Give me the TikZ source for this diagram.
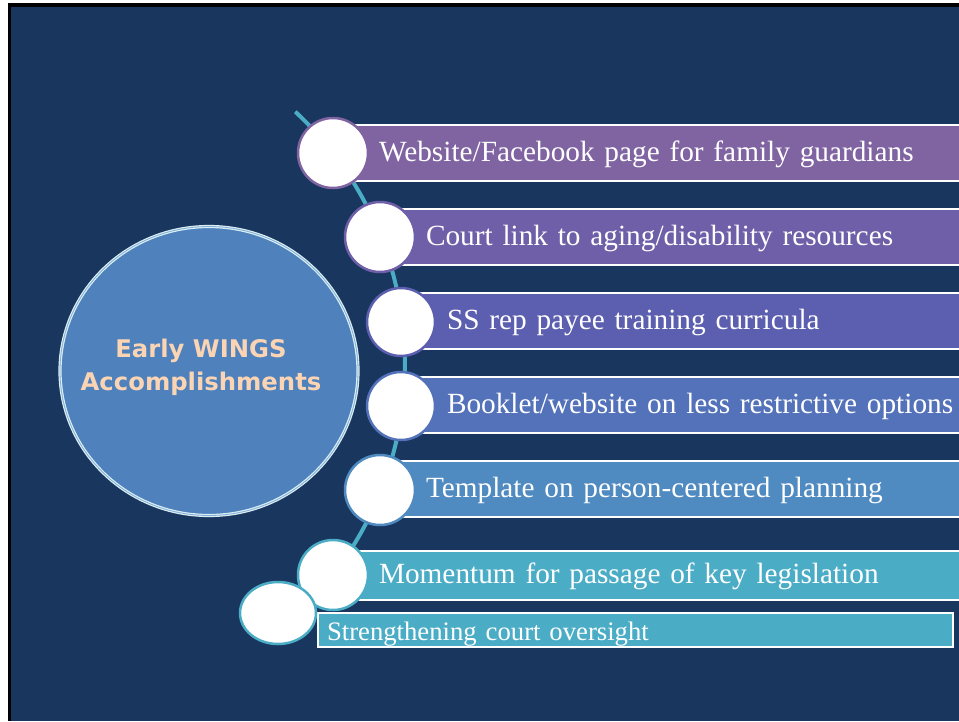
\documentclass[tikz,border=0pt]{standalone}
\usepackage{fontspec}
\setmainfont{Liberation Serif}
\newfontfamily\titlefont{DejaVu Sans}
\usetikzlibrary{shapes.geometric}

\definecolor{slide}{RGB}{24,54,94}
\definecolor{barA}{RGB}{128,100,162}
\definecolor{barB}{RGB}{111,95,168}
\definecolor{barC}{RGB}{92,94,175}
\definecolor{barD}{RGB}{84,114,186}
\definecolor{barE}{RGB}{79,138,193}
\definecolor{barF}{RGB}{75,172,198}
\definecolor{bigblue}{RGB}{79,129,189}
\definecolor{ring}{RGB}{218,238,243}
\definecolor{ringgap}{RGB}{130,175,215}
\definecolor{peach}{RGB}{251,212,180}

\begin{document}
\begin{tikzpicture}[
  x=1pt, y=-1pt,
  bar/.style={draw=white,line width=2pt,anchor=west,minimum height=56pt,text width=620pt,inner xsep=45pt,align=left,text=white,font=\fontsize{29.3}{34}\selectfont,text height=21pt,text depth=5pt},
  dot/.style={draw,circle,line width=2.5pt,fill=white,minimum size=70pt,inner sep=0}
  ]

  \clip (0,0) rectangle (959,721);
  \fill[white] (0,0) rectangle (959,721);
  \fill[black] (8,3) rectangle (959,721);
  \fill[slide] (11,7) rectangle (959,721);

  \node [ellipse,inner sep=0,fill=bigblue,draw=ring,double=ringgap,double distance=0.8pt,line width=1.2pt,minimum width=298pt,minimum height=289pt] (wings) at (209,371) {};
  \node [text=peach,align=center,font=\titlefont\bfseries\fontsize{24.3}{33}\selectfont] (title) at (201,367) {Early WINGS\\Accomplishments};

  \coordinate (hub) at (60,364);
  \draw[barF,line width=4pt] (hub) ++(-47:345) arc[start angle=-47,end angle=38,radius=345];

  \node [bar,fill=barA] (b1) at (333,153) {Website/Facebook page for family guardians};
  \node [bar,fill=barB] (b2) at (380,237) {Court link to aging/disability resources};
  \node [bar,fill=barC] (b3) at (401,321) {SS rep payee training curricula};
  \node [bar,fill=barD] (b4) at (401,405) {Booklet/website on less restrictive options};
  \node [bar,fill=barE] (b5) at (380,489) {Template on person-centered planning};
  \node [bar,fill=barF,minimum height=49pt] (b6) at (333,575) {Momentum for passage of key legislation};
  \node [bar,fill=barF,minimum height=34pt,inner xsep=9pt,text width=617pt,font=\fontsize{26.7}{30}\selectfont,text height=21pt,text depth=0pt] (b7) at (317,630) {Strengthening court oversight};

  \node [dot,draw=barA] (c1) at (333,153) {};
  \node [dot,draw=barB] (c2) at (380,237) {};
  \node [dot,draw=barC,minimum size=68pt] (c3) at (401,322) {};
  \node [dot,draw=barD,minimum size=68pt] (c4) at (401,406) {};
  \node [dot,draw=barE] (c5) at (380,490) {};
  \node [dot,draw=barF] (c6) at (333,575) {};
  \node [dot,ellipse,draw=barF,minimum width=76pt,minimum height=62pt] (c7) at (278,613) {};

\end{tikzpicture}
\end{document}
